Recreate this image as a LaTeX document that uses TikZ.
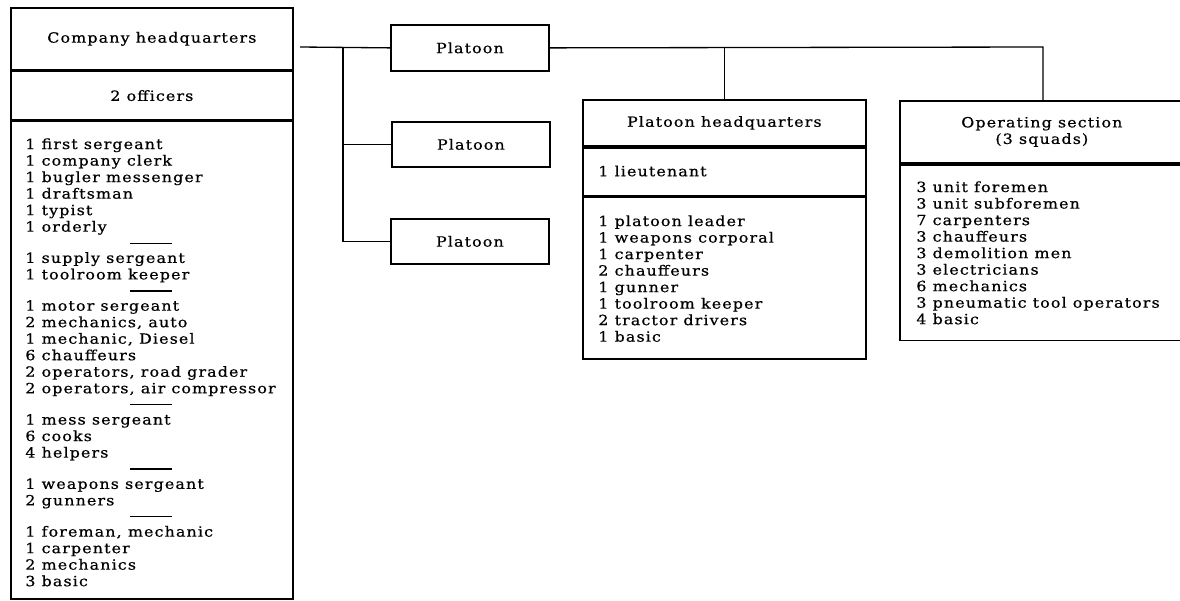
\documentclass[tikz,border=0pt]{standalone}
\usepackage{fontspec}
\usepackage{tikz}
\usetikzlibrary{positioning}
\newfontfamily\chartfont[FakeStretch=1.13,LetterSpace=8,FakeBold=0.6]{DejaVu Serif}
\newcommand{\orgfont}{\chartfont\fontsize{8}{9.4}\selectfont}
\newcommand{\grpsep}{\\[-0.5pt]\hspace*{2.1cm}\rule[2pt]{0.84cm}{0.7pt}\\[-0.5pt]}
\tikzset{
org_box/.style = {rectangle, draw=black, line width=1pt, anchor=north west,
inner sep=0pt, align=center, font=\orgfont},% outlined unit box
org_list/.style = {anchor=north west, inner sep=0pt, align=left, font=\orgfont},% roster inside a box
org_link/.style = {line width=0.75pt}% connector between units
}
\begin{document}
\begin{tikzpicture}[x=0.02cm, y=-0.02cm]
\useasboundingbox (0,0) rectangle (1180,601);
% company headquarters
\node [org_box, minimum width=5.64cm, minimum height=1.24cm] (chq_title) at (10,7) {Company headquarters};
\node [org_box, below=0pt of chq_title, minimum width=5.64cm, minimum height=0.96cm] (chq_off) {2 officers};
\node [org_box, below=0pt of chq_off, minimum width=5.64cm, minimum height=9.56cm] (chq_body) {};
\node [org_list] (chq_list) at (25,138) {1 first sergeant\\1 company clerk\\1 bugler messenger\\1 draftsman\\1 typist\\1 orderly\grpsep
  1 supply sergeant\\1 toolroom keeper\grpsep
  1 motor sergeant\\2 mechanics, auto\\1 mechanic, Diesel\\6 chauffeurs\\2 operators, road grader\\2 operators, air compressor\grpsep
  1 mess sergeant\\6 cooks\\4 helpers\grpsep
  1 weapons sergeant\\2 gunners\grpsep
  1 foreman, mechanic\\1 carpenter\\2 mechanics\\3 basic};
% platoons
\node [org_box, minimum width=3.16cm, minimum height=0.92cm] (plt_a) at (390,24) {Platoon};
\node [org_box, minimum width=3.16cm, minimum height=0.9cm] (plt_b) at (391,121) {Platoon};
\node [org_box, minimum width=3.16cm, minimum height=0.9cm] (plt_c) at (390,218) {Platoon};
% platoon headquarters
\node [org_box, minimum width=5.66cm, minimum height=0.92cm] (phq_title) at (582,99) {Platoon headquarters};
\node [org_box, below=0pt of phq_title, minimum width=5.66cm, minimum height=0.96cm] (phq_off) {};
\node [org_box, below=0pt of phq_off, minimum width=5.66cm, minimum height=3.24cm] (phq_body) {};
\node [org_list, anchor=west] (phq_lt) at (598,171) {1 lieutenant};
\node [org_list] (phq_list) at (598,215) {1 platoon leader\\1 weapons corporal\\1 carpenter\\2 chauffeurs\\1 gunner\\1 toolroom keeper\\2 tractor drivers\\1 basic};
% operating section
\node [org_box, minimum width=5.68cm, minimum height=1.24cm] (ops_title) at (899,100) {Operating section\\(3 squads)};
\node [org_box, below=0pt of ops_title, minimum width=5.68cm, minimum height=3.52cm] (ops_body) {};
\node [org_list] (ops_list) at (916,181) {3 unit foremen\\3 unit subforemen\\7 carpenters\\3 chauffeurs\\3 demolition men\\3 electricians\\6 mechanics\\3 pneumatic tool operators\\4 basic};
% connectors
\coordinate (hq_out) at (300,47);
\coordinate (trunk) at (343,47);
\coordinate (ops_join) at (1043,47);
\draw [org_link] (hq_out) -- (plt_a.west);
\draw [org_link] (trunk) |- (plt_c.west);
\draw [org_link] (trunk |- plt_b.west) -- (plt_b.west);
\draw [org_link] (plt_a.east) -- (ops_join) -- (ops_join |- ops_title.north);
\draw [org_link] (phq_title.north) -- (phq_title.north |- plt_a.east);
\end{tikzpicture}
\end{document}
